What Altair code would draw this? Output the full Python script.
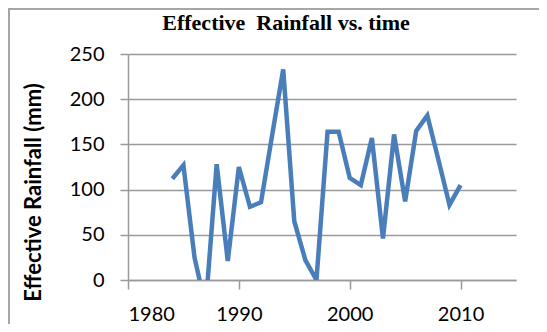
import altair as alt
import pandas as pd

# ---- data ----
years = list(range(1984, 2011))
rainfall = [112, 127, 25, -30, 128, 21, 125, 81, 86, 160, 233, 65, 22, 0,
            164, 164, 113, 105, 157, 46, 161, 87, 165, 182, 133, 83, 105]
y_ticks = [0, 50, 100, 150, 200, 250]
x_ticks = [1980, 1990, 2000, 2010]
chart_title = "Effective\u00a0 Rainfall vs. time"
y_title = "Effective Rainfall (mm)"

df = pd.DataFrame({"year": years, "rain": rainfall})

GRID = "#9a9a9a"

line = alt.Chart(df).mark_line(
    color="#4a7ebb", strokeWidth=4.5, clip=True
).encode(
    x=alt.X("year:Q",
            scale=alt.Scale(domain=[1980, 2015], nice=False, zero=False),
            axis=alt.Axis(values=x_ticks, format="d", grid=False,
                          domainColor=GRID, domainWidth=1.5,
                          tickColor=GRID, tickWidth=1.5, tickSize=9,
                          labelFont="Lato", labelFontSize=20, labelColor="#000",
                          labelPadding=15, title=None)),
    y=alt.Y("rain:Q",
            scale=alt.Scale(domain=[0, 250], nice=False),
            axis=alt.Axis(values=y_ticks, grid=True, gridColor=GRID, gridWidth=1.5,
                          domainColor=GRID, domainWidth=1.5,
                          tickColor=GRID, tickWidth=1.5, tickSize=8,
                          labelFont="Lato", labelFontSize=20, labelColor="#000",
                          labelPadding=16,
                          title=y_title, titleFont="Lato", titleFontSize=22,
                          titleFontWeight="bold", titleColor="#000",
                          titleAngle=270, titleX=-95, titleY=138,
                          titleAlign="center", titleBaseline="middle")),
)

title_layer = alt.Chart(pd.DataFrame({"t": [chart_title]})).mark_text(
    font="Liberation Serif", fontSize=22, fontWeight="bold",
    align="center", baseline="alphabetic", color="#000"
).encode(text="t:N", x=alt.value(158), y=alt.value(-24))

border = alt.Chart(pd.DataFrame({"b": [0]})).mark_rect(
    fill=None, stroke="#a6a6a6", strokeWidth=2
).encode(x=alt.value(-119), x2=alt.value(440), y=alt.value(-45), y2=alt.value(300))

chart = alt.layer(border, line, title_layer).properties(
    width=388, height=226,
    autosize=alt.AutoSizeParams(type="none"),
    padding={"left": 120, "top": 46, "right": 23, "bottom": 44},
    background="white",
).configure_view(stroke=None)

chart.save("out.html", embed_options={"renderer": "svg", "actions": False})
